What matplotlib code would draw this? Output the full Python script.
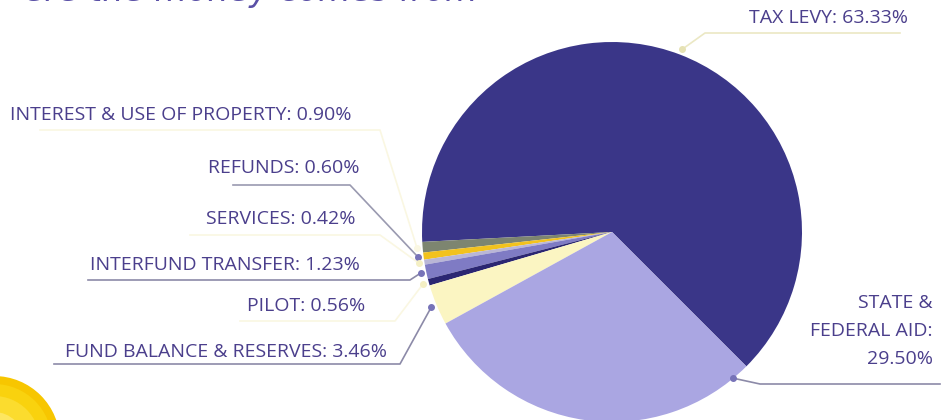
import matplotlib
matplotlib.use("Agg")
import matplotlib.pyplot as plt
from matplotlib.patches import Circle
import numpy as np

# slices, counterclockwise from the tax levy / state aid boundary
labels = ["TAX LEVY", "INTEREST & USE OF PROPERTY", "REFUNDS", "SERVICES",
          "INTERFUND TRANSFER", "PILOT", "FUND BALANCE & RESERVES", "STATE &\nFEDERAL AID"]
shares = [63.33, 0.90, 0.60, 0.42, 1.23, 0.56, 3.46, 29.50]
colors = ["#3a3688", "#7d8570", "#f2c21e", "#b9b6d6", "#7f7bc4", "#2b2672", "#fbf5c2", "#aaa6e2"]

plt.rcParams['font.family'] = ['Open Sans', 'DejaVu Sans']
txt_col = "#4b3f8c"
fs = 14

fig = plt.figure(figsize=(9.5, 4.2), dpi=100)
ax = fig.add_axes([0, 0, 1, 1])

# yellow sun blob, bottom left
for r, c in [(66, "#f7c600"), (58, "#f9d20e"), (46, "#fbdc2e"), (30, "#fde660")]:
    ax.add_patch(Circle((-6, -22), r, color=c, lw=0, zorder=0))

# cut-off heading at the top
ax.text(478, 419, "ere the money comes from", fontsize=24, style='italic',
        color="#5a50a6", va='baseline', ha='right', family=['DejaVu Sans'])

cx, cy, R = 612, 188, 190
wedges, _ = ax.pie(shares, colors=colors, startangle=-45, counterclock=True,
                   center=(cx, cy), radius=R, frame=True,
                   wedgeprops=dict(linewidth=0))
ax.set_xlim(0, 950)
ax.set_ylim(0, 420)
ax.set_aspect('equal')
ax.axis('off')

# label layout: (text x, text y, where along wedge, line start x, knee x, line y, line colour, dot colour)
pct = ["%.2f%%" % s for s in shares]
faint = "#faf7e2"
layout = [
    (908, 402, 0.5, 900, 705, 387, "#ebe8c4", "#e6e2b4"),
    (352, 305, 0.5, 40, 380, 290, faint, faint),
    (360, 252, 0.5, 233, 350, 235, "#9a9ab0", "#7773b8"),
    (355, 201, 0.5, 190, 380, 185, faint, "#f4efc4"),
    (360, 155, 0.5, 88, 410, 140, "#8c8aa8", "#7773b8"),
    (365, 114, 0.5, 240, 395, 99, faint, "#f4efc4"),
    (387, 68, 0.5, 54, 400, 56, "#8c8aa8", "#7773b8"),
]
for i, (tx, ty, fr, lx, kx, ly, lc, dc) in enumerate(layout):
    ax.text(tx, ty, labels[i] + ": " + pct[i], ha='right', va='center',
            fontsize=fs, color=txt_col)
    w = wedges[i]
    a = np.deg2rad(w.theta1 + fr * (w.theta2 - w.theta1))
    px, py = cx + 1.03 * R * np.cos(a), cy + 1.03 * R * np.sin(a)
    ax.plot([lx, kx, px], [ly, ly, py], color=lc, lw=1.2, zorder=1)
    ax.plot(px, py, 'o', ms=4, color=dc, zorder=3)

# state & federal aid
w = wedges[7]
a = np.deg2rad(w.theta1 + 0.95 * (w.theta2 - w.theta1))
px, py = cx + 1.0 * R * np.cos(a), cy + 1.0 * R * np.sin(a)
ax.text(933, 89, labels[7] + ":\n" + pct[7], ha='right', va='center',
        fontsize=fs, color=txt_col, linespacing=1.75, multialignment='right')
ax.plot([px, 760, 940], [py, 36, 36], color="#8c8aa8", lw=1.2, zorder=1)
ax.plot(px, py, 'o', ms=4, color="#7773b8", zorder=3)

fig.savefig("out.png", dpi=100)
